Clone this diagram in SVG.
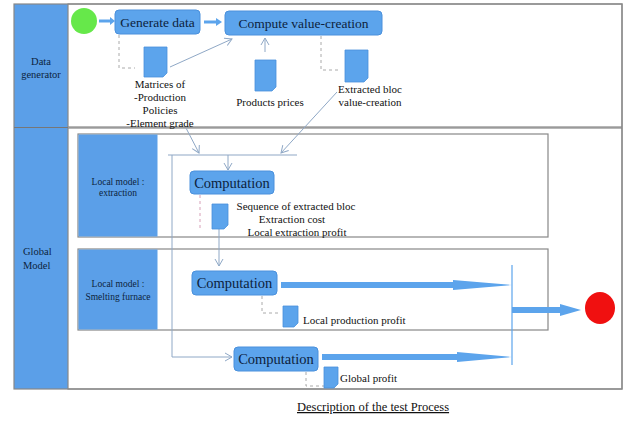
<svg xmlns="http://www.w3.org/2000/svg" width="634" height="421" viewBox="0 0 634 421">
<defs>
<style>
text{font-family:"Liberation Serif","Times New Roman",serif;}
.t{fill:#111;}
.nav{fill:#0d1f3d;}
.box{fill:#5ca4ec;stroke:#4a90dc;stroke-width:1;}
.lane{fill:#5b9fe8;}
.frame{fill:none;stroke:#888;stroke-width:1.2;}
.conn{fill:none;stroke:#8fa8c6;stroke-width:1;}
.dash{fill:none;stroke:#aaa;stroke-width:1;stroke-dasharray:3,3;}
.dashp{fill:none;stroke:#d7a0b8;stroke-width:1;stroke-dasharray:3,3;}
.doc{fill:#5ca4ec;stroke:#4a90dc;stroke-width:0.8;}
.blk{fill:#5ca4ec;}
</style>
<marker id="open" markerWidth="10" markerHeight="10" refX="8" refY="5" orient="auto" markerUnits="userSpaceOnUse">
<path d="M1,1 L8,5 L1,9" fill="none" stroke="#8fa8c6" stroke-width="1"/>
</marker>
</defs>
<rect width="634" height="421" fill="#fff"/>

<g font-family="Liberation Serif, Times New Roman, serif">
<!-- lanes -->
<g id="lane-data">
<rect class="lane" x="14" y="4" width="54" height="123"/>
<rect class="frame" x="68" y="4" width="554" height="123"/>
<text class="nav" x="41" y="65" font-size="10.5" text-anchor="middle">Data</text>
<text class="nav" x="41" y="78" font-size="10.5" text-anchor="middle">generator</text>
</g>
<g id="lane-global">
<rect class="lane" x="14" y="128" width="54" height="261"/>
<rect class="frame" x="68" y="128" width="554" height="261"/>
<rect class="frame" x="14" y="4" width="608" height="385"/>
<line x1="14" y1="127.5" x2="68" y2="127.5" stroke="#777" stroke-width="1"/>
<text class="nav" x="23" y="255" font-size="10.5">Global</text>
<text class="nav" x="23" y="269" font-size="10.5">Model</text>
</g>

<g id="local-extraction">
<rect class="frame" x="78" y="134" width="470" height="103"/>
<rect class="lane" x="78.5" y="134.5" width="79" height="102"/>
<text class="nav" x="118" y="185" font-size="9.5" text-anchor="middle">Local model :</text>
<text class="nav" x="118" y="196" font-size="9.5" text-anchor="middle">extraction</text>
</g>
<g id="local-smelting">
<rect class="frame" x="78" y="249" width="470" height="81"/>
<rect class="lane" x="78.5" y="249.5" width="79" height="80"/>
<text class="nav" x="118" y="287" font-size="9.5" text-anchor="middle">Local model :</text>
<text class="nav" x="118" y="300" font-size="9.5" text-anchor="middle">Smelting furnace</text>
</g>

<!-- connectors -->
<g id="connectors">
<line x1="99" y1="21" x2="112" y2="21" stroke="#5ca4ec" stroke-width="3"/>
<polygon class="blk" points="110,17 115,21 110,25"/>
<line x1="204" y1="22" x2="218" y2="22" stroke="#5ca4ec" stroke-width="3"/>
<polygon class="blk" points="216,18 222,22 216,26"/>
<polyline class="dash" points="119,35 119,68 135,68"/>
<line class="conn" x1="170" y1="67" x2="232" y2="39" marker-end="url(#open)"/>
<line class="conn" x1="265" y1="52" x2="265" y2="38" marker-end="url(#open)"/>
<polyline class="dash" points="321,36 321,70 338,70"/>
<line class="conn" x1="337" y1="92" x2="281" y2="153" marker-end="url(#open)"/>
<line class="conn" x1="186" y1="128" x2="199" y2="153" marker-end="url(#open)"/>
<line x1="168" y1="155" x2="297" y2="155" stroke="#8fa8c6" stroke-width="1.2"/>
<line class="conn" x1="228" y1="155" x2="228" y2="170" marker-end="url(#open)"/>
<polyline class="conn" points="172,155 172,357 232,357" marker-end="url(#open)"/>
<polyline class="dashp" points="200,195 200,230"/>
<line class="conn" x1="219" y1="229" x2="219" y2="266" marker-end="url(#open)"/>
<polyline class="dash" points="262,296 262,313 280,313"/>
<polyline class="dash" points="306,372 306,386 324,386"/>
<polygon class="blk" points="281,282 453,282 453,280 512,285 453,290 453,288 281,288"/>
<polygon class="blk" points="322,354 457,354 457,352 512,357 457,362 457,360 322,360"/>
<line x1="512" y1="265" x2="512" y2="365" stroke="#5ca4ec" stroke-width="1.2"/>
<polygon class="blk" points="512,307 560,307 560,304 581,310 560,316 560,313 512,313"/>
</g>

<!-- nodes -->
<g id="start"><circle cx="84" cy="21" r="13" fill="#66e84a"/></g>
<g id="end"><ellipse cx="600" cy="308" rx="15" ry="16" fill="#f01010"/></g>

<g id="generate-data">
<rect class="box" x="115" y="10" width="85" height="24" rx="4"/>
<text class="nav" x="157.5" y="27" font-size="13.5" text-anchor="middle">Generate data</text>
</g>
<g id="compute-value">
<rect class="box" x="225" y="11" width="157" height="24" rx="4"/>
<text class="nav" x="303.5" y="28" font-size="13.5" text-anchor="middle">Compute value-creation</text>
</g>

<g id="doc-matrices">
<path class="doc" d="M144,47 H167 V73 L163,77 H144 Z"/>
<text class="t" x="160" y="88" font-size="11" text-anchor="middle">Matrices of</text>
<text class="t" x="160" y="101" font-size="11" text-anchor="middle">-Production</text>
<text class="t" x="160" y="114" font-size="11" text-anchor="middle">Policies</text>
<text class="t" x="160" y="127" font-size="11" text-anchor="middle">-Element grade</text>
</g>
<g id="doc-prices">
<path class="doc" d="M255,60 H276 V87 L272,91 H255 Z"/>
<text class="t" x="270" y="106" font-size="11" text-anchor="middle">Products prices</text>
</g>
<g id="doc-extracted">
<path class="doc" d="M345,50 H368 V78 L364,82 H345 Z"/>
<text class="t" x="370" y="93" font-size="11" text-anchor="middle">Extracted bloc</text>
<text class="t" x="370" y="106" font-size="11" text-anchor="middle">value-creation</text>
</g>

<g id="computation-1">
<rect class="box" x="190" y="171" width="84" height="23" rx="4"/>
<text class="nav" x="232" y="188" font-size="14.5" text-anchor="middle">Computation</text>
</g>
<g id="doc-extraction">
<path class="doc" d="M212,204 H228 V225 L224,229 H212 Z"/>
<text class="t" x="296" y="210" font-size="11" text-anchor="middle">Sequence of extracted bloc</text>
<text class="t" x="292" y="223" font-size="11" text-anchor="middle">Extraction cost</text>
<text class="t" x="297" y="236" font-size="11" text-anchor="middle">Local extraction profit</text>
</g>

<g id="computation-2">
<rect class="box" x="192" y="271" width="85" height="24" rx="4"/>
<text class="nav" x="234.5" y="288" font-size="14.5" text-anchor="middle">Computation</text>
</g>
<g id="doc-production">
<path class="doc" d="M283,306 H298 V323 L294,327 H283 Z"/>
<text class="t" x="303" y="324" font-size="11">Local production profit</text>
</g>

<g id="computation-3">
<rect class="box" x="234" y="347" width="84" height="24" rx="4"/>
<text class="nav" x="276" y="364" font-size="14.5" text-anchor="middle">Computation</text>
</g>
<g id="doc-global">
<path class="doc" d="M324,367 H338 V384 L334,388 H324 Z"/>
<text class="t" x="340" y="382" font-size="11">Global profit</text>
</g>

<g id="caption">
<text class="t" x="297" y="411" font-size="12.5" text-decoration="underline">Description of the test Process</text>
</g>
</g>
</svg>
